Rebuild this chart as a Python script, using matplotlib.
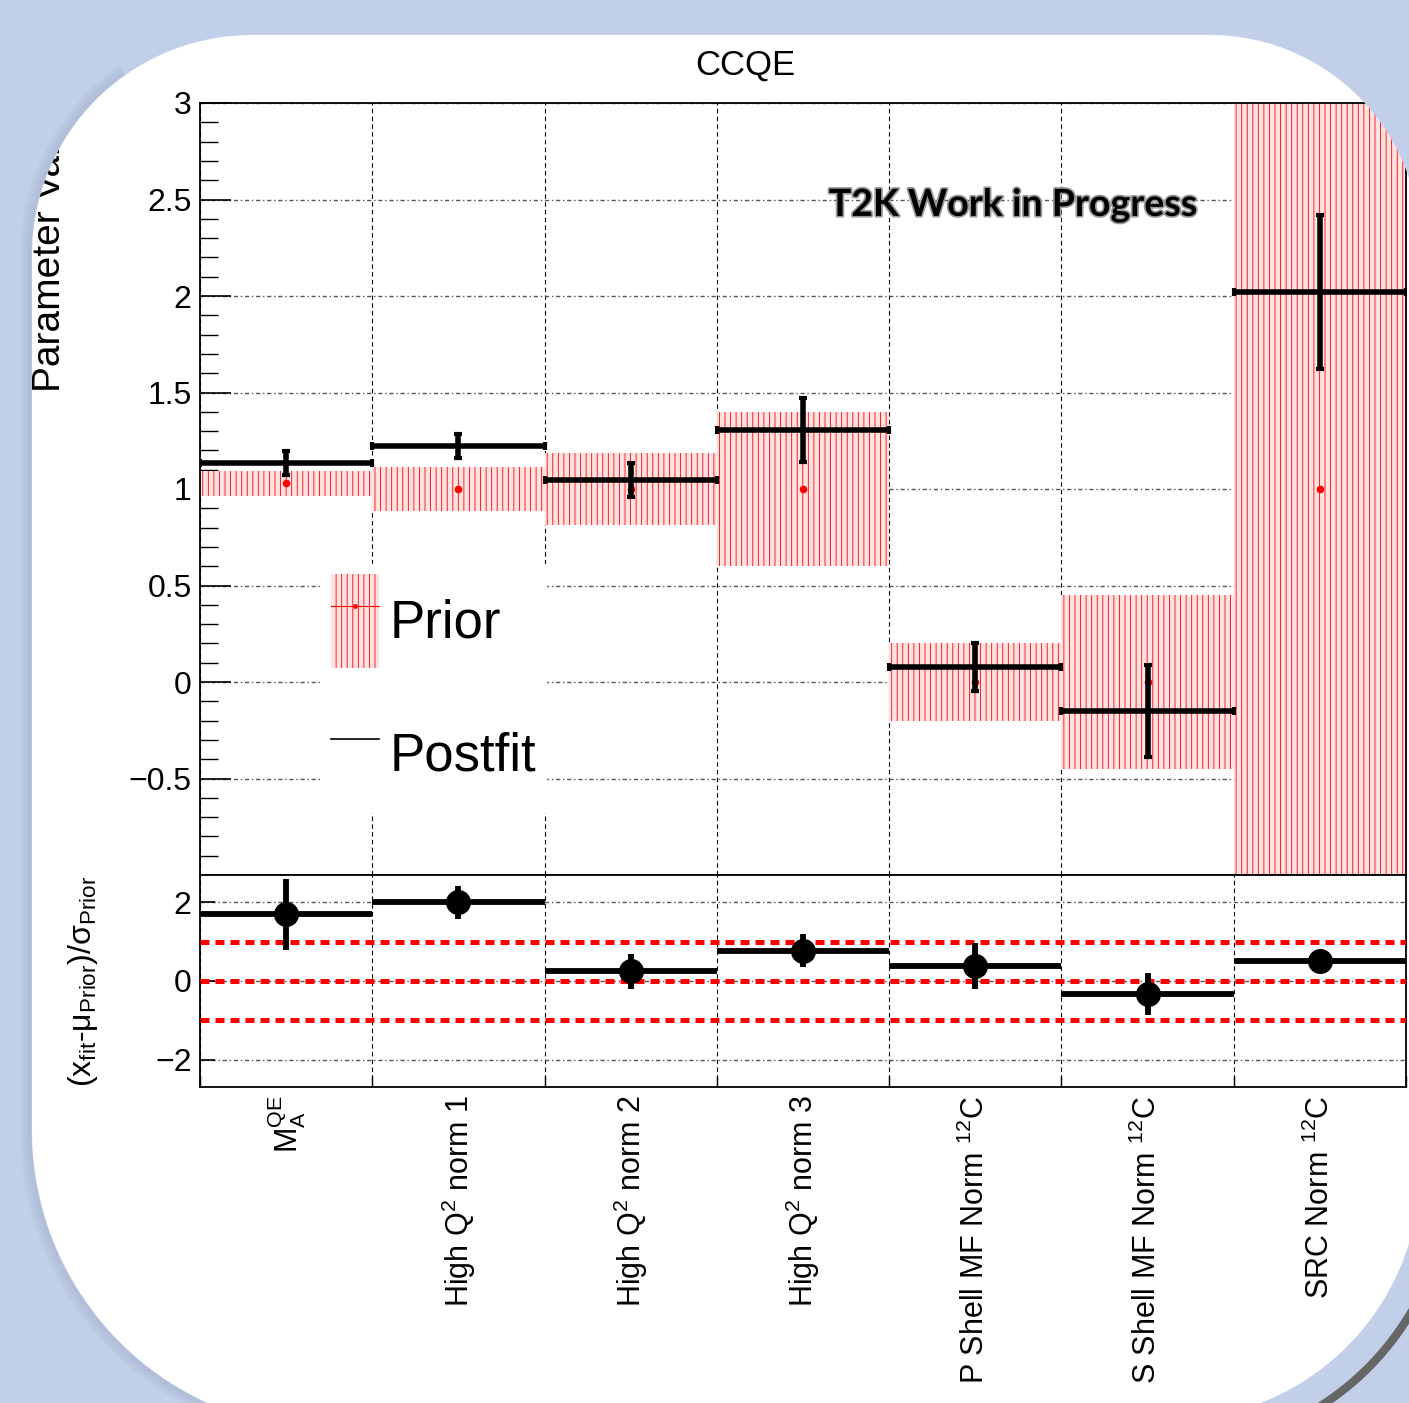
#!/usr/bin/env python3
"""CCQE prior / postfit parameter comparison with pull panel."""

import numpy as np
import matplotlib.pyplot as plt
import matplotlib.patheffects as pe
from matplotlib.patches import Patch, PathPatch
from matplotlib.lines import Line2D
from matplotlib.path import Path
from matplotlib.ticker import FixedLocator, FuncFormatter

plt.rcParams['font.family'] = ['Liberation Sans', 'DejaVu Sans']
plt.rcParams['mathtext.fontset'] = 'custom'
plt.rcParams['mathtext.rm'] = 'Liberation Sans'
plt.rcParams['mathtext.it'] = 'Liberation Sans:italic'
plt.rcParams['mathtext.bf'] = 'Liberation Sans:bold'
plt.rcParams['hatch.linewidth'] = 0.6

# data
param_names = [r'M$_{\mathrm{A}}^{\mathrm{QE}}$',
               r'High Q$^{2}$ norm 1',
               r'High Q$^{2}$ norm 2',
               r'High Q$^{2}$ norm 3',
               r'P Shell MF Norm $^{12}$C',
               r'S Shell MF Norm $^{12}$C',
               r'SRC Norm $^{12}$C']
prior_mu = [1.03, 1.0, 1.0, 1.0, 0.0, 0.0, 1.0]
prior_err = [0.065, 0.114, 0.185, 0.40, 0.20, 0.45, 2.0]
post_val = [1.135, 1.223, 1.047, 1.306, 0.078, -0.15, 2.02]
post_err = [0.06, 0.062, 0.088, 0.166, 0.125, 0.24, 0.40]
pull_val = [1.70, 2.00, 0.25, 0.77, 0.38, -0.33, 0.51]
pull_err = [0.90, 0.43, 0.45, 0.42, 0.58, 0.53, 0.20]

W, H = 1409, 1403
BG = '#c1cfe9'
PRIOR_FACE = '#ffe2e2'

n = len(param_names)
x = np.arange(n) + 0.5
edges = np.arange(n + 1)
prior_mu = np.array(prior_mu)
prior_err = np.array(prior_err)

fig = plt.figure(figsize=(W / 100, H / 100), dpi=100, facecolor='white')

# ---- top panel ----
ax1 = fig.add_axes([200 / W, 1 - 875 / H, 1206 / W, 772 / H])
ax2 = fig.add_axes([200 / W, 1 - 1087 / H, 1206 / W, 212 / H], sharex=ax1)

ax1.bar(x, 2 * prior_err, bottom=prior_mu - prior_err, width=1.0,
        facecolor=PRIOR_FACE, edgecolor='red', hatch='|||', linewidth=0,
        zorder=1)
ax1.plot(x, prior_mu, 'o', color='red', ms=4.5, zorder=2)
ax1.errorbar(x, post_val, xerr=0.5, yerr=post_err, fmt='none',
             ecolor='black', elinewidth=4, capsize=3, capthick=3, zorder=3)

ax1.set_xlim(0, n)
ax1.set_ylim(-1, 3)
ax1.yaxis.set_major_locator(FixedLocator(np.arange(-0.5, 3.01, 0.5)))
ax1.yaxis.set_minor_locator(FixedLocator(np.arange(-1, 3.01, 0.1)))
ax1.yaxis.set_major_formatter(
    FuncFormatter(lambda v, p: f'{v:g}'.replace('-', '\u2212')))
ax1.tick_params(axis='y', which='major', direction='in', length=22,
                width=1.2, labelsize=23, pad=6)
ax1.tick_params(axis='y', which='minor', direction='in', length=13,
                width=1.0)
ax1.tick_params(axis='x', which='both', length=0, labelbottom=False)
ax1.xaxis.set_major_locator(FixedLocator(edges))
ax1.grid(axis='y', which='major', color='#555555', lw=1.0,
         linestyle=(0, (3, 2, 1, 2)))
ax1.grid(axis='x', which='major', color='black', lw=0.8,
         linestyle=(0, (4, 3)))
ax1.set_axisbelow(True)
for s in ax1.spines.values():
    s.set_linewidth(1.3)

ax1.text(0.674, 0.868, 'T2K Work in Progress', transform=ax1.transAxes,
         ha='center', va='center', fontsize=27, fontweight='bold',
         family=['Lato', 'DejaVu Sans'], color='black', zorder=6,
         path_effects=[pe.withStroke(linewidth=2.5, foreground='#9a9a9a')])

prior_handle = (Patch(facecolor=PRIOR_FACE, edgecolor='red', hatch='|||',
                      linewidth=0),
                Line2D([], [], color='red', lw=0.8, marker='o', ms=2.5))
post_handle = Line2D([], [], color='black', lw=1.2)
leg = ax1.legend([prior_handle, post_handle], ['Prior', 'Postfit'],
                 loc='upper left', bbox_to_anchor=(0.100, 0.403),
                 fontsize=38, frameon=True, fancybox=False,
                 edgecolor='white', framealpha=1, handlelength=0.9,
                 handleheight=2.35, handletextpad=0.2, labelspacing=0.75,
                 borderpad=0.2, borderaxespad=0)
leg.set_zorder(5)

fig.text(745 / W, 1 - 65 / H, 'CCQE', ha='center', va='center', fontsize=25)
fig.text(50 / W, 1 - 103 / H, 'Parameter Value', rotation=90,
         ha='center', va='top', fontsize=28)

# ---- pull panel ----
ax2.errorbar(x, pull_val, xerr=0.5, yerr=pull_err, fmt='o', color='black',
             ms=17, elinewidth=4.2, capsize=0, zorder=4)
for v in (-1, 0, 1):
    ax2.axhline(v, color='red', lw=3.6, linestyle=(0, (1.8, 1.2)), zorder=3)

ax2.set_ylim(-2.7, 2.7)
ax2.yaxis.set_major_locator(FixedLocator([-2, 0, 2]))
ax2.yaxis.set_major_formatter(
    FuncFormatter(lambda v, p: f'{v:g}'.replace('-', '\u2212')))
ax2.tick_params(axis='y', direction='in', length=11, width=1.2,
                labelsize=23, pad=6)
ax2.xaxis.set_major_locator(FixedLocator(edges))
ax2.xaxis.set_minor_locator(FixedLocator(x))
ax2.set_xticklabels([], minor=False)
ax2.set_xticklabels(param_names, minor=True, rotation=90, fontsize=22,
                    va='top', ha='center')
ax2.tick_params(axis='x', which='major', direction='in', length=8, width=1.0)
ax2.tick_params(axis='x', which='minor', length=0, pad=6)
ax2.grid(axis='y', which='major', color='#555555', lw=1.0,
         linestyle=(0, (3, 2, 1, 2)))
ax2.grid(axis='x', which='major', color='black', lw=0.8,
         linestyle=(0, (4, 3)))
ax2.set_axisbelow(True)
for s in ax2.spines.values():
    s.set_linewidth(1.3)
ax2.set_ylabel('(x$_{\\mathrm{fit}}$-\u03bc$_{\\mathrm{Prior}}$)/\u03c3$_{\\mathrm{Prior}}$',
               fontsize=23)
ax2.yaxis.set_label_coords(-100 / 1206, 0.5)

# ---- slide background: blue frame with a rounded white window ----
ov = fig.add_axes([0, 0, 1, 1], zorder=20)
ov.set_xlim(0, W)
ov.set_ylim(H, 0)
ov.axis('off')
ov.patch.set_alpha(0)


def arc(cx, cy, r, a0, a1, num=60):
    t = np.radians(np.linspace(a0, a1, num))
    return np.column_stack([cx + r * np.cos(t), cy + r * np.sin(t)])


inner = np.vstack([arc(252, 255, 220, 180, 270),
                   arc(1210, 245, 210, 270, 360),
                   arc(1170, 1170, 250, 0, 90),
                   arc(332, 1130, 300, 90, 180)])
outer = np.array([[-50, -50], [-50, 1500], [1500, 1500], [1500, -50]])
verts = np.vstack([outer, outer[:1], inner, inner[:1]])
codes = ([Path.MOVETO] + [Path.LINETO] * 3 + [Path.CLOSEPOLY]
         + [Path.MOVETO] + [Path.LINETO] * (len(inner) - 1) + [Path.CLOSEPOLY])
ov.add_patch(PathPatch(Path(verts, codes), facecolor=BG, edgecolor='none'))

# soft shadow down the left side of the window
for k in range(7):
    d = 1.5 + 1.6 * k
    sh = np.vstack([arc(252, 255, 220 + d, 235, 180),
                    arc(332, 1130, 300 + d, 180, 100)])
    ov.plot(sh[:, 0], sh[:, 1], color='#5f6f8c', lw=1.3,
            alpha=0.16 - 0.02 * k, solid_capstyle='butt')
# dark swoosh in the lower right corner
sw = arc(1170, 1170, 280, -5, 95)
ov.plot(sw[:, 0], sw[:, 1], color='#666666', lw=6)

fig.savefig('out.png', dpi=100, facecolor='white')
